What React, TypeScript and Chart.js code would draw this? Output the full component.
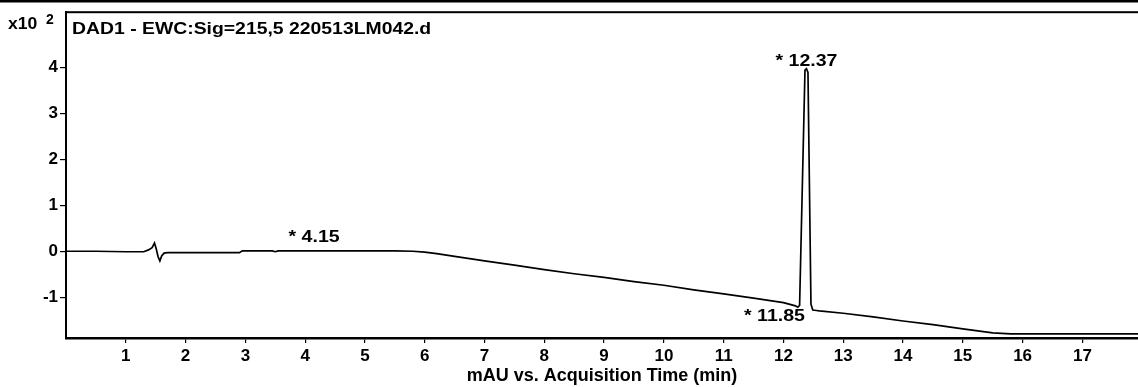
import React, { useEffect, useRef } from "react";
import { Chart, registerables } from "chart.js";

Chart.register(...registerables);

// Acquisition time (min) and signal (x10^2 mAU)
const timeMin = [
  0, 0.5, 1.0, 1.3, 1.38, 1.44, 1.48, 1.51, 1.54, 1.57, 1.6, 1.64, 1.7, 2.0, 2.5, 2.9, 2.95,
  3.45, 3.5, 3.55, 4.0, 4.5, 5.0, 5.5, 5.8, 6.0, 6.2, 6.5, 7.0, 7.5, 8.0, 8.5, 9.0, 9.5, 10.0,
  10.5, 11.0, 11.5, 12.0, 12.2, 12.24, 12.27, 12.36, 12.385, 12.41, 12.46, 12.49, 12.55, 12.6,
  13.0, 13.5, 14.0, 14.5, 15.0, 15.5, 15.8, 16.5, 17.0, 17.5, 17.93,
];
const signal = [
  0, 0, -0.01, -0.01, 0.03, 0.08, 0.18, 0.05, -0.12, -0.21, -0.1, -0.04, -0.03, -0.03, -0.03,
  -0.03, 0.01, 0.01, -0.01, 0.01, 0.01, 0.01, 0.01, 0.01, 0.0, -0.02, -0.05, -0.11, -0.21, -0.3,
  -0.4, -0.49, -0.57, -0.66, -0.74, -0.84, -0.93, -1.02, -1.12, -1.19, -1.22, -1.18, 3.95, 3.98,
  3.9, -1.15, -1.28, -1.29, -1.3, -1.35, -1.43, -1.52, -1.6, -1.69, -1.78, -1.8, -1.8, -1.8, -1.8,
  -1.8,
];

const xTickValues = [1, 2, 3, 4, 5, 6, 7, 8, 9, 10, 11, 12, 13, 14, 15, 16, 17];
const yTickValues = [-1, 0, 1, 2, 3, 4];

const peakTimes = [4.15, 12.385, 11.85];
const peakValues = [0.01, 3.98, -1.1];
const peakLabels = ["* 4.15", "* 12.37", "* 11.85"];
const peakSides = ["above", "above", "below"];

const chartTitle = "DAD1 - EWC:Sig=215,5 220513LM042.d";
const xAxisTitle = "mAU vs. Acquisition Time (min)";

const FONT = "'Liberation Sans', Arial, sans-serif";

function stretchedText(ctx: any, text: string, x: number, y: number, sx: number) {
  ctx.save();
  ctx.translate(x, y);
  ctx.scale(sx, 1);
  ctx.fillText(text, 0, 0);
  ctx.restore();
}

const decorPlugin = {
  id: "decor",
  afterDraw(chart: any) {
    const { ctx, chartArea, scales } = chart;
    const x = scales.x;
    const y = scales.y;
    ctx.save();
    ctx.fillStyle = "#000";
    // page top rule
    ctx.fillRect(0, 0, chart.width, 2.5);
    // top frame
    ctx.fillRect(chartArea.left - 1, chartArea.top - 1, chartArea.right - chartArea.left + 1, 2);

    // title inside plot
    ctx.font = `bold 17px ${FONT}`;
    ctx.textBaseline = "middle";
    ctx.textAlign = "left";
    stretchedText(ctx, chartTitle, chartArea.left + 6, 29, 1.14);

    // multiplier
    ctx.font = `bold 16px ${FONT}`;
    stretchedText(ctx, "x10", 8, 25, 1.1);
    ctx.font = `bold 14px ${FONT}`;
    ctx.fillText("2", 46, 20);

    // peak labels
    ctx.font = `bold 17px ${FONT}`;
    ctx.textAlign = "center";
    for (let i = 0; i < peakTimes.length; i++) {
      const px = x.getPixelForValue(peakTimes[i]);
      const py = y.getPixelForValue(peakValues[i]);
      const ty = peakSides[i] === "above" ? py - (i === 1 ? 7 : 14) : py + 15;
      stretchedText(ctx, peakLabels[i], px, ty, 1.15);
    }
    ctx.restore();
  },
};

export default function App() {
  const ref = useRef<HTMLCanvasElement | null>(null);

  useEffect(() => {
    if (!ref.current) return;
    const chart = new Chart(ref.current, {
      type: "line",
      data: {
        datasets: [
          {
            data: timeMin.map((t, i) => ({ x: t, y: signal[i] })),
            borderColor: "#000",
            borderWidth: 1.7,
            pointRadius: 0,
            tension: 0,
            fill: false,
          },
        ],
      },
      options: {
        animation: false,
        responsive: false,
        maintainAspectRatio: false,
        layout: { padding: { top: 11, right: 0, left: 0, bottom: 0 } },
        plugins: {
          legend: { display: false },
          tooltip: { enabled: false },
          title: { display: false },
        },
        scales: {
          x: {
            type: "linear",
            min: 0,
            max: 17.93,
            afterBuildTicks: (s: any) => {
              s.ticks = xTickValues.map((v) => ({ value: v }));
            },
            afterFit: (s: any) => {
              s.height = 49;
            },
            ticks: {
              autoSkip: false,
              maxRotation: 0,
              color: "#000",
              padding: 3,
              font: { family: FONT, size: 17, weight: "bold" },
            },
            grid: {
              drawOnChartArea: false,
              drawTicks: true,
              tickLength: 5,
              color: "#000",
              lineWidth: 1.2,
            },
            border: { display: true, color: "#000", width: 2.5 },
            title: {
              display: true,
              text: xAxisTitle,
              color: "#000",
              font: { family: FONT, size: 18, weight: "bold" },
              padding: { top: 0, bottom: 0 },
            },
          },
          y: {
            type: "linear",
            min: -1.89,
            max: 5.21,
            afterBuildTicks: (s: any) => {
              s.ticks = yTickValues.map((v) => ({ value: v }));
            },
            afterFit: (s: any) => {
              s.width = 66;
            },
            ticks: {
              color: "#000",
              padding: 2,
              font: { family: FONT, size: 17, weight: "bold" },
            },
            grid: {
              drawOnChartArea: false,
              drawTicks: true,
              tickLength: 6,
              color: "#000",
              lineWidth: 1.2,
            },
            border: { display: true, color: "#000", width: 2 },
          },
        },
      },
      plugins: [decorPlugin],
    });
    return () => chart.destroy();
  }, []);

  return (
    <div style={{ position: "fixed", left: 0, top: 0, width: 1138, height: 387, background: "#fff" }}>
      <canvas ref={ref} width={1138} height={387} style={{ width: 1138, height: 387, display: "block" }} />
    </div>
  );
}
